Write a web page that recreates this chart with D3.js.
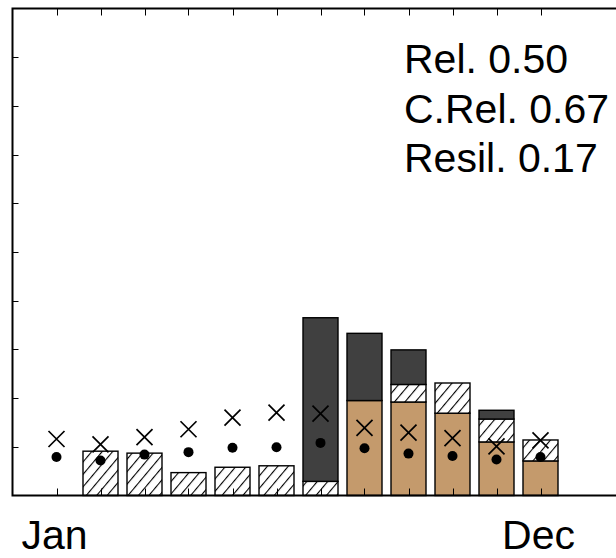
<!DOCTYPE html>
<html>
<head>
<meta charset="utf-8">
<script src="https://cdn.jsdelivr.net/npm/d3@7/dist/d3.min.js"></script>
<style>
  html, body { margin: 0; padding: 0; background: #fff; }
  svg { display: block; }
  text { font-family: "Liberation Sans", Arial, sans-serif; fill: #000; }
</style>
</head>
<body>
<svg id="chart" width="616" height="558"></svg>
<script>
// Monthly storage components (stacked): supply met, deficit covered, unmet demand
const months = ["Jan","Feb","Mar","Apr","May","Jun","Jul","Aug","Sep","Oct","Nov","Dec"];
const metValues     = [0, 0, 0, 0, 0, 0, 0, 1.95, 1.92, 1.69, 1.10, 0.71];
const coveredValues = [0, 0.91, 0.87, 0.47, 0.58, 0.61, 0.29, 0, 0.36, 0.62, 0.47, 0.43];
const unmetValues   = [0, 0, 0, 0, 0, 0, 3.36, 1.38, 0.71, 0, 0.18, 0];
// Marker series
const crossValues   = [1.16, 1.05, 1.20, 1.36, 1.60, 1.70, 1.68, 1.39, 1.29, 1.18, 1.01, 1.13];
const dotValues     = [0.79, 0.72, 0.84, 0.89, 0.98, 0.99, 1.08, 0.97, 0.86, 0.81, 0.74, 0.79];
const labeledMonths = ["Jan", "Dec"];
const yTicks        = [1, 2, 3, 4, 5, 6, 7, 8, 9];
const statLines     = ["Rel. 0.50", "C.Rel. 0.67", "Resil. 0.17"];

const svg = d3.select("#chart");
const plotLeft = 12.5, plotTop = 8.5, plotBottom = 495.5, plotRight = 628.5;

const x = d3.scaleLinear().domain([0, 14]).range([plotLeft, plotRight]);
const y = d3.scaleLinear().domain([0, 10]).range([plotBottom, plotTop]);
const barW = 35;

// Diagonal hatch pattern
const defs = svg.append("defs");
const pat = defs.append("pattern")
  .attr("id", "hatch")
  .attr("patternUnits", "userSpaceOnUse")
  .attr("width", 8).attr("height", 8)
  .attr("patternTransform", "rotate(40)");
pat.append("rect").attr("width", 8).attr("height", 8).attr("fill", "#fff");
pat.append("line").attr("x1", 0.5).attr("y1", 0).attr("x2", 0.5).attr("y2", 8)
  .attr("stroke", "#000").attr("stroke-width", 1.2);

const rows = months.map((m, i) => ({
  idx: i + 1, month: m,
  met: metValues[i], covered: coveredValues[i], unmet: unmetValues[i]
}));
const keys = ["met", "covered", "unmet"];
const fills = { met: "#c49a6c", covered: "url(#hatch)", unmet: "#404040" };
const series = d3.stack().keys(keys)(rows);

const bars = svg.append("g");
series.forEach(s => {
  bars.selectAll(null)
    .data(s.filter(d => d[1] - d[0] > 0))
    .join("rect")
    .attr("x", d => x(d.data.idx) - barW / 2)
    .attr("width", barW)
    .attr("y", d => y(d[1]))
    .attr("height", d => y(d[0]) - y(d[1]))
    .attr("fill", fills[s.key])
    .attr("stroke", "#000")
    .attr("stroke-width", 1.4);
});

// Frame
svg.append("path")
  .attr("d", `M${plotRight},${plotTop}H${plotLeft}V${plotBottom}H${plotRight}`)
  .attr("fill", "none").attr("stroke", "#000").attr("stroke-width", 2);

// Inward ticks
const tickLen = 7;
const tg = svg.append("g").attr("stroke", "#000").attr("stroke-width", 1);
months.forEach((m, i) => {
  const xx = Math.round(x(i + 1)) + 0.5;
  tg.append("line").attr("x1", xx).attr("x2", xx).attr("y1", plotBottom).attr("y2", plotBottom - tickLen);
  tg.append("line").attr("x1", xx).attr("x2", xx).attr("y1", plotTop).attr("y2", plotTop + tickLen);
});
yTicks.forEach(v => {
  const yy = Math.round(y(v)) + 0.5;
  tg.append("line").attr("x1", plotLeft).attr("x2", plotLeft + 6).attr("y1", yy).attr("y2", yy);
});

// Markers
const mk = svg.append("g");
mk.selectAll(".cross")
  .data(crossValues)
  .join("path")
  .attr("class", "cross")
  .attr("d", (v, i) => {
    const cx = x(i + 1), cy = y(v), r = 8;
    return `M${cx - r},${cy - r}L${cx + r},${cy + r}M${cx - r},${cy + r}L${cx + r},${cy - r}`;
  })
  .attr("stroke", "#000").attr("stroke-width", 1.7).attr("fill", "none");
mk.selectAll(".dot")
  .data(dotValues)
  .join("circle")
  .attr("class", "dot")
  .attr("cx", (v, i) => x(i + 1))
  .attr("cy", v => y(v))
  .attr("r", 5)
  .attr("fill", "#000");

// Month labels
svg.append("g").selectAll("text")
  .data(labeledMonths)
  .join("text")
  .attr("x", m => x(months.indexOf(m) + 1) - 2)
  .attr("y", 549)
  .attr("text-anchor", "middle")
  .attr("font-size", 41)
  .text(m => m);

// Performance statistics
svg.append("g").selectAll("text")
  .data(statLines)
  .join("text")
  .attr("x", 404)
  .attr("y", (d, i) => 73 + i * 49.5)
  .attr("font-size", 41)
  .text(d => d);
</script>
</body>
</html>
